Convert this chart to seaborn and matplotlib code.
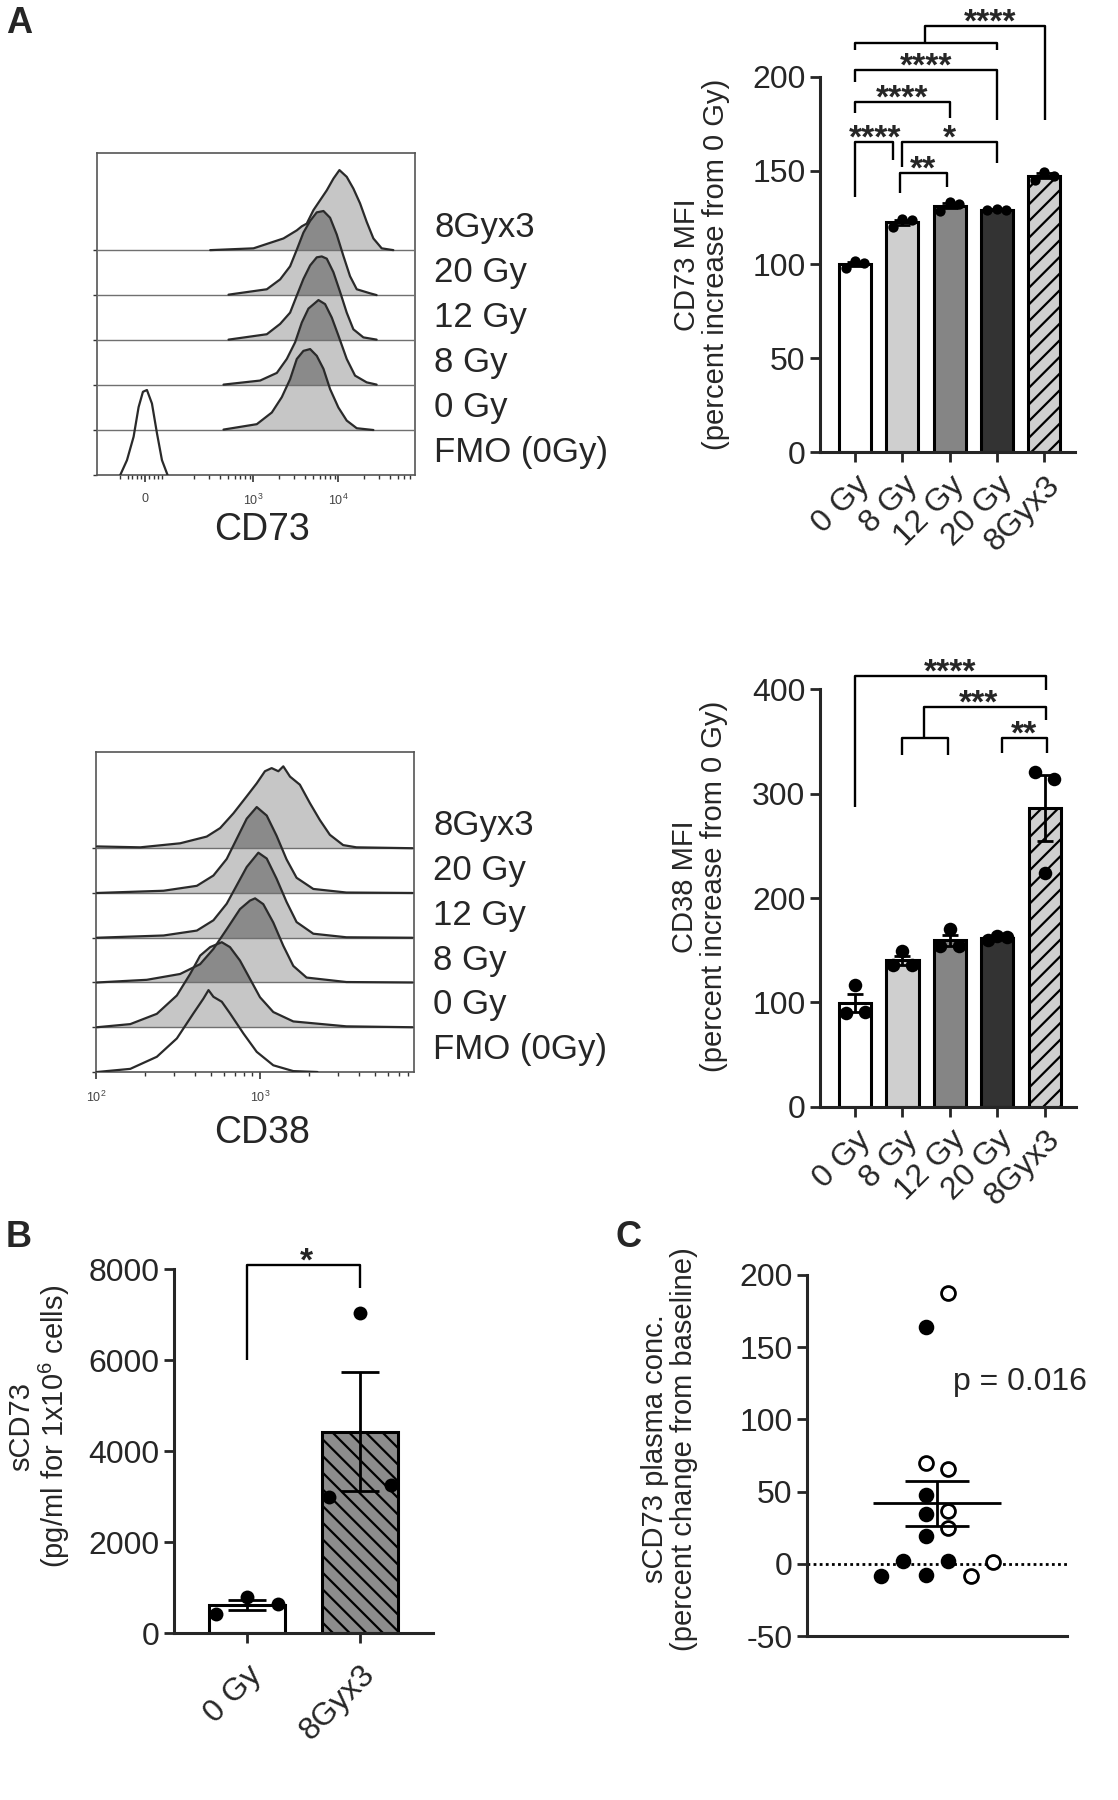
# CD73 / CD38 after irradiation - flow histograms, MFI bars, sCD73 panels
import matplotlib
matplotlib.use("Agg")
import matplotlib.pyplot as plt
import matplotlib.transforms as mtransforms
import numpy as np
import pandas as pd
import seaborn as sns

W, H = 1118, 1800

GROUPS = ["0 Gy", "8 Gy", "12 Gy", "20 Gy", "8Gyx3"]
HIST_LABELS = ["FMO (0Gy)", "0 Gy", "8 Gy", "12 Gy", "20 Gy", "8Gyx3"]

# flow histograms, points: (decade position, height in rows)
CD73_FMO = [(1.431, 0), (1.51, 0.33), (1.588, 0.85), (1.647, 1.51), (1.698, 1.85), (1.745, 1.89),
            (1.804, 1.59), (1.863, 0.93), (1.922, 0.33), (1.988, 0)]
CD73_0GY = [(2.647, 0.01), (3.039, 0.13), (3.216, 0.39), (3.333, 0.73), (3.431, 1.13), (3.51, 1.58),
            (3.588, 1.76), (3.667, 1.80), (3.745, 1.65), (3.824, 1.36), (3.902, 0.91), (4.0, 0.50),
            (4.098, 0.21), (4.216, 0.04), (4.412, 0)]
CD73_8GY = [(2.647, 0.01), (3.078, 0.10), (3.275, 0.27), (3.392, 0.58), (3.49, 0.95), (3.569, 1.39),
            (3.647, 1.70), (3.765, 1.89), (3.843, 1.80), (3.922, 1.50), (4.0, 1.10), (4.098, 0.58),
            (4.196, 0.21), (4.333, 0.06), (4.45, 0.01)]
CD73_12GY = [(2.706, 0.01), (3.157, 0.13), (3.314, 0.36), (3.431, 0.61), (3.51, 0.99), (3.588, 1.36),
             (3.667, 1.66), (3.745, 1.84), (3.804, 1.86), (3.863, 1.81), (3.941, 1.51), (4.02, 1.07),
             (4.098, 0.61), (4.176, 0.24), (4.294, 0.06), (4.45, 0.01)]
CD73_20GY = [(2.706, 0.01), (3.157, 0.13), (3.314, 0.35), (3.431, 0.64), (3.51, 1.01), (3.588, 1.39),
             (3.667, 1.65), (3.745, 1.84), (3.824, 1.87), (3.902, 1.72), (3.98, 1.35), (4.059, 0.87),
             (4.137, 0.42), (4.216, 0.13), (4.373, 0.04), (4.45, 0)]
CD73_8GYX3 = [(2.49, 0), (3.0, 0.04), (3.353, 0.26), (3.51, 0.44), (3.569, 0.53), (3.627, 0.59),
              (3.706, 0.89), (3.863, 1.33), (3.941, 1.59), (4.012, 1.78), (4.098, 1.63), (4.176, 1.37),
              (4.255, 1.04), (4.333, 0.63), (4.412, 0.26), (4.51, 0.04), (4.647, 0)]

CD38_FMO = [(2.006, 0), (2.209, 0.07), (2.371, 0.34), (2.493, 0.75), (2.594, 1.31), (2.655, 1.64),
            (2.686, 1.83), (2.716, 1.68), (2.767, 1.57), (2.817, 1.31), (2.899, 0.86), (2.98, 0.45),
            (3.081, 0.15), (3.203, 0.02), (3.35, 0)]
CD38_0GY = [(2.006, 0), (2.209, 0.07), (2.371, 0.30), (2.493, 0.71), (2.574, 1.19), (2.635, 1.60),
            (2.696, 1.79), (2.767, 1.90), (2.817, 1.79), (2.878, 1.49), (2.939, 1.08), (3.0, 0.67),
            (3.081, 0.34), (3.203, 0.13), (3.527, 0.02), (3.93, 0)]
CD38_8GY = [(2.006, 0), (2.31, 0.06), (2.513, 0.19), (2.635, 0.41), (2.716, 0.75), (2.797, 1.19),
            (2.878, 1.64), (2.939, 1.83), (2.97, 1.88), (3.02, 1.75), (3.081, 1.34), (3.142, 0.82),
            (3.203, 0.37), (3.284, 0.11), (3.527, 0.01), (3.93, 0)]
CD38_12GY = [(2.006, 0), (2.412, 0.05), (2.615, 0.16), (2.716, 0.39), (2.797, 0.76), (2.858, 1.17),
             (2.919, 1.58), (2.99, 1.90), (3.041, 1.77), (3.101, 1.32), (3.162, 0.80), (3.223, 0.35),
             (3.325, 0.09), (3.527, 0.01), (3.93, 0)]
CD38_20GY = [(2.006, 0), (2.412, 0.05), (2.615, 0.16), (2.716, 0.39), (2.797, 0.76), (2.858, 1.21),
             (2.919, 1.66), (2.98, 1.92), (3.041, 1.73), (3.101, 1.28), (3.162, 0.75), (3.223, 0.34),
             (3.325, 0.09), (3.527, 0.01), (3.93, 0)]
CD38_8GYX3 = [(2.006, 0.04), (2.27, 0.02), (2.513, 0.11), (2.675, 0.26), (2.757, 0.45), (2.838, 0.78),
              (2.919, 1.16), (2.98, 1.45), (3.03, 1.72), (3.071, 1.79), (3.112, 1.72), (3.142, 1.83),
              (3.183, 1.60), (3.243, 1.42), (3.304, 1.01), (3.365, 0.63), (3.426, 0.30), (3.507, 0.07),
              (3.588, 0.02), (3.93, 0)]

# MFI, percent of 0 Gy, three replicates per group
CD73_MFI = [[97.9, 102.0, 100.6], [119.8, 124.2, 123.7], [128.7, 133.1, 132.0],
            [129.0, 129.6, 129.0], [145.0, 149.4, 147.3]]
CD38_MFI = [[90.1, 116.6, 91.1], [135.8, 149.2, 135.8], [154.3, 170.0, 154.3],
            [159.7, 163.9, 162.3], [321.0, 223.6, 313.7]]

# panel B, sCD73 pg/ml
B_GROUPS = ["0 Gy", "8Gyx3"]
B_SCD73 = [[425, 806, 645], [3000, 7050, 3250]]

# panel C, percent change from baseline (swarm column per point)
C_FILLED = [-8.2, 1.9, -7.7, 19.3, 34.3, 47.6, 1.9, 163.8]
C_FILLED_COL = [-2.5, -1.5, -0.5, -0.5, -0.5, -0.5, 0.5, -0.5]
C_OPEN = [187.8, 69.6, 65.4, 36.8, 24.6, -8.4, 1.0]
C_OPEN_COL = [0.5, -0.5, 0.5, 0.5, 0.5, 1.5, 2.5]

LIGHT = "#c6c6c6"
DARK = "#8a8a8a"
TICK_FS = 23
LABEL_FS = 21
STAR_FS = 24

sns.set_style("ticks")
plt.rcParams["font.family"] = ["Liberation Sans", "DejaVu Sans"]
plt.rcParams["mathtext.default"] = "regular"
plt.rcParams["axes.unicode_minus"] = False
plt.rcParams["hatch.linewidth"] = 1.6
plt.rcParams["hatch.color"] = "black"

fig = plt.figure(figsize=(W / 100, H / 100), dpi=100)


def px_axes(x0, x1, y0, y1):
    return fig.add_axes([x0 / W, 1 - y1 / H, (x1 - x0) / W, (y1 - y0) / H])


def plot_hist(ax, curves, xlim, ytop, major, major_labels, minor):
    grid = np.linspace(xlim[0], xlim[1], 1500)
    heights = []
    for pts in curves:
        xs, hs = np.array(pts).T
        heights.append(np.interp(grid, xs, hs, left=0, right=0))

    for row, pts in enumerate(curves):
        if row == 0:
            continue  # FMO is outline only
        xs, hs = np.array(pts).T
        ax.fill_between(xs, row, row + hs, color=LIGHT, lw=0, zorder=1)

    # where a histogram pokes into the filled one above it -> darker
    for row in range(1, len(curves) - 1):
        top = np.minimum(row + heights[row], row + 1 + heights[row + 1])
        ax.fill_between(grid, row + 1, top, where=top > row + 1, interpolate=True,
                        color=DARK, lw=0, zorder=2)

    for row in range(1, len(curves)):
        ax.axhline(row, color="#707070", lw=1.0, zorder=3)

    for row, pts in enumerate(curves):
        xs, hs = np.array(pts).T
        ax.plot(xs, row + hs, color="#2a2a2a", lw=1.6, zorder=4)

    ax.set_xlim(*xlim)
    ax.set_ylim(0, ytop)
    ax.set_yticks(range(len(curves)))
    ax.set_yticklabels([])
    ax.set_xticks(major)
    ax.set_xticklabels(major_labels, fontsize=9, color="#444444")
    ax.set_xticks(minor, minor=True)
    ax.tick_params(axis="x", which="major", length=5, width=1.2, color="#333333", pad=8)
    ax.tick_params(axis="x", which="minor", length=3, width=1.0, color="#333333")
    ax.tick_params(axis="y", length=3, width=1.0, color="#333333")
    for sp in ax.spines.values():
        sp.set_color("#555555")
        sp.set_linewidth(1.2)

    trans = mtransforms.blended_transform_factory(ax.transAxes, ax.transData)
    for row, lab in enumerate(HIST_LABELS):
        ax.text(1.06, row + 0.5, lab, transform=trans, fontsize=25, va="center", ha="left")


def draw_line(ax, xs, ys):
    ax.plot(xs, ys, color="black", lw=1.7, clip_on=False, solid_capstyle="butt", zorder=6)


def stars(ax, x, y, text):
    ax.annotate(text, (x, y), xytext=(0, -4), textcoords="offset points", ha="center",
                va="baseline", fontsize=STAR_FS, fontweight="bold", annotation_clip=False)


def bracket(ax, x1, x2, y, y1, y2, text, xt=None):
    draw_line(ax, [x1, x1, x2, x2], [y1, y, y, y2])
    stars(ax, (x1 + x2) / 2 if xt is None else xt, y, text)


def plot_bars(ax, names, pts, colors, hatch_idx, hatch, offsets, dot_size, capsize):
    df = pd.DataFrame({"group": np.repeat(names, len(pts[0])), "value": np.concatenate(pts)})
    sns.barplot(data=df, x="group", y="value", hue="group", palette=colors, width=0.68,
                errorbar=None, edgecolor="black", linewidth=2.2, legend=False, ax=ax, zorder=2)
    ax.patches[hatch_idx].set_hatch(hatch)

    stats = df.groupby("group", sort=False)["value"].agg(["mean", "sem"])
    ax.errorbar(np.arange(len(names)), stats["mean"], yerr=stats["sem"], fmt="none",
                ecolor="black", elinewidth=2, capsize=capsize, capthick=2, zorder=4)
    for i, vals in enumerate(pts):
        ax.scatter(i + np.array(offsets), vals, s=dot_size, color="black", zorder=5,
                   clip_on=False, linewidths=0)

    sns.despine(ax=ax)
    ax.set_xlabel("")
    ax.set_xticks(range(len(names)))
    ax.set_xticklabels(names, rotation=45, ha="right", rotation_mode="anchor", fontsize=TICK_FS)
    ax.tick_params(axis="both", length=7, width=2, labelsize=TICK_FS)
    ax.tick_params(axis="x", pad=6)
    for sp in ax.spines.values():
        sp.set_linewidth(2.2)


# ---- A: CD73 histogram
ax = px_axes(97, 415, 153, 475)
cd73_minor = [np.log10(k * 10 ** n) for n in (2, 3, 4) for k in range(2, 10)
              if np.log10(k * 10 ** n) < 4.9]
cd73_minor += [1.725 + d for d in (-0.3, -0.2, -0.15, -0.1, -0.05, 0.05, 0.1, 0.15, 0.2)]
plot_hist(ax, [CD73_FMO, CD73_0GY, CD73_8GY, CD73_12GY, CD73_20GY, CD73_8GYX3],
          (1.157, 4.902), 7.16, [1.725, 3, 4], ["0", "10$^3$", "10$^4$"], cd73_minor)
fig.text(262 / W, 1 - 530 / H, "CD73", fontsize=27, ha="center", va="center")

# ---- A: CD38 histogram
ax = px_axes(96, 414, 752, 1072)
cd38_minor = [np.log10(k * 10 ** n) for n in (2, 3) for k in range(2, 10)
              if np.log10(k * 10 ** n) < 3.94]
plot_hist(ax, [CD38_FMO, CD38_0GY, CD38_8GY, CD38_12GY, CD38_20GY, CD38_8GYX3],
          (2.0, 3.939), 7.15, [2, 3], ["10$^2$", "10$^3$"], cd38_minor)
fig.text(262 / W, 1 - 1133 / H, "CD38", fontsize=27, ha="center", va="center")

bar_colors = ["white", "#cfcfcf", "#858585", "#333333", "#d0d0d0"]

# ---- A: CD73 MFI bars
ax = px_axes(820, 1075, 76.7, 452.3)
plot_bars(ax, GROUPS, CD73_MFI, bar_colors, 4, "//", [-0.2, 0, 0.2], 55, 6)
ax.set_xlim(-0.74, 4.65)
ax.set_ylim(0, 200)
ax.set_yticks([0, 50, 100, 150, 200])
ax.set_ylabel("CD73 MFI\n(percent increase from 0 Gy)", fontsize=LABEL_FS, linespacing=1.05)
ax.yaxis.set_label_coords(-0.353, 0.5)
bracket(ax, 0, 0.81, 165.4, 136.1, 155.6, "****", 0.43)
bracket(ax, 0.95, 1.94, 148.5, 137.9, 141.4, "**")
bracket(ax, 1.0, 3.0, 165.4, 152.0, 153.9, "*")
bracket(ax, 0, 2.0, 186.7, 180.5, 177.8, "****")
bracket(ax, 0, 3.0, 203.6, 197.3, 176.9, "****")
draw_line(ax, [0, 0, 3, 3], [214.2, 217.8, 217.8, 214.2])
draw_line(ax, [1.48, 1.48, 4.02, 4.02], [217.8, 227.0, 227.0, 176.9])
stars(ax, 2.85, 227.0, "****")

# ---- A: CD38 MFI bars
ax = px_axes(820, 1076, 689.3, 1106.7)
plot_bars(ax, GROUPS, CD38_MFI, bar_colors, 4, "//", [-0.2, 0, 0.2], 95, 6)
ax.set_xlim(-0.74, 4.66)
ax.set_ylim(0, 400)
ax.set_yticks([0, 100, 200, 300, 400])
ax.set_ylabel("CD38 MFI\n(percent increase from 0 Gy)", fontsize=LABEL_FS, linespacing=1.05)
ax.yaxis.set_label_coords(-0.36, 0.527)
bracket(ax, 0, 4.02, 412.8, 287.5, 399.4, "****")
draw_line(ax, [1.0, 1.0, 1.95, 1.95], [337, 353, 353, 337])
draw_line(ax, [1.45, 1.45, 4.02, 4.02], [353, 383.4, 383.4, 370.6])
stars(ax, 2.6, 383.4, "***")
bracket(ax, 3.09, 4.04, 353, 338.7, 338.7, "**")

# ---- B: soluble CD73
ax = px_axes(174, 433, 1269.3, 1633.3)
plot_bars(ax, B_GROUPS, B_SCD73, ["white", "#8c8c8c"], 1, "\\\\", [-0.27, 0, 0.27], 100, 14)
ax.set_xlim(-0.646, 1.646)
ax.set_ylim(0, 8000)
ax.set_yticks([0, 2000, 4000, 6000, 8000])
ax.tick_params(axis="x", pad=12)
ax.set_ylabel("sCD73\n(pg/ml for 1x10$^6$ cells)", fontsize=LABEL_FS, linespacing=1.05)
ax.yaxis.set_label_coords(-0.394, 0.569)
bracket(ax, 0, 1, 8095, 6007, 7582, "*", 0.53)

# ---- C: plasma sCD73
ax = px_axes(807, 1067, 1275, 1636)
ax.axhline(0, ls=(0, (1, 1.2)), lw=2, color="black", zorder=1)
sns.scatterplot(x=C_FILLED_COL, y=C_FILLED, color="black", s=100, edgecolor="black",
                linewidth=1.2, ax=ax, zorder=3, clip_on=False)
sns.scatterplot(x=C_OPEN_COL, y=C_OPEN, color="white", s=100, edgecolor="black",
                linewidth=2, ax=ax, zorder=3, clip_on=False)
c_all = np.array(C_FILLED + C_OPEN)
c_mean = c_all.mean()
c_sem = c_all.std(ddof=1) / np.sqrt(len(c_all))
ax.hlines(c_mean, -2.87, 2.88, color="black", lw=2, zorder=4)
ax.vlines(0, c_mean - c_sem, c_mean + c_sem, color="black", lw=2, zorder=4)
ax.hlines([c_mean - c_sem, c_mean + c_sem], -1.45, 1.45, color="black", lw=2, zorder=4)
ax.set_xlim(-5.82, 5.82)
ax.set_ylim(-50, 200)
ax.set_yticks([-50, 0, 50, 100, 150, 200])
ax.set_xticks([])
sns.despine(ax=ax)
for sp in ax.spines.values():
    sp.set_linewidth(2.2)
ax.tick_params(axis="y", length=7, width=2, labelsize=TICK_FS)
ax.set_ylabel("sCD73 plasma conc.\n(percent change from baseline)", fontsize=LABEL_FS,
              linespacing=1.05)
ax.yaxis.set_label_coords(-0.42, 0.518)
ax.text(0.7, 126, "p = 0.016", fontsize=23, va="center", ha="left")

# panel letters
fig.text(6 / W, 1 - 6 / H, "A", fontsize=26, fontweight="bold", va="top")
fig.text(6 / W, 1 - 1220 / H, "B", fontsize=26, fontweight="bold", va="top")
fig.text(616 / W, 1 - 1220 / H, "C", fontsize=26, fontweight="bold", va="top")

fig.savefig("out.png", dpi=100, facecolor="white")
